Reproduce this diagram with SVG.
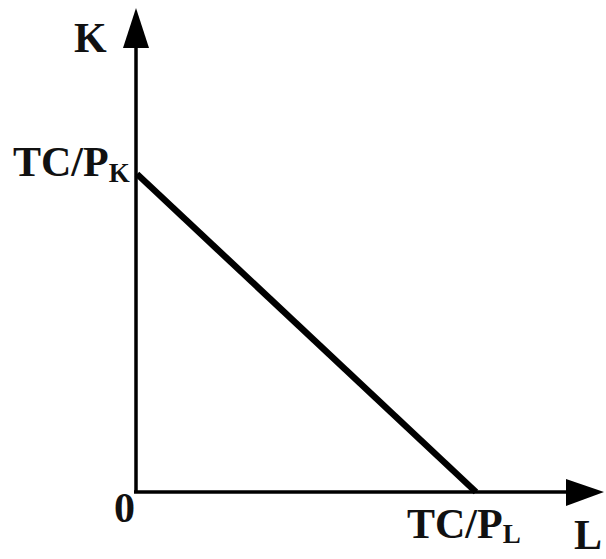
<svg xmlns="http://www.w3.org/2000/svg" width="606" height="559" viewBox="0 0 606 559">
<style>
.t{font-family:"Liberation Serif","Times New Roman",serif;font-weight:bold;fill:#111;font-size:42px}
.s{font-size:27px}
.ax{stroke:#000;stroke-width:3.5;fill:none}
</style>
<rect width="606" height="559" fill="#fff"/>
<g id="axes">
<line class="ax" x1="136" y1="492" x2="136" y2="40"/>
<polygon points="136,8 123,48 149,48" fill="#000"/>
<line class="ax" x1="134" y1="492" x2="572" y2="492"/>
<polygon points="604,492 566,479 566,506" fill="#000"/>
</g>
<g id="budget-line">
<line x1="137" y1="174" x2="476" y2="492" stroke="#000" stroke-width="6.5"/>
</g>
<g id="labels">
<text class="t" x="74" y="52">K</text>
<text class="t" x="13" y="176">TC/P<tspan class="s" dy="6">K</tspan></text>
<text class="t" x="114" y="522">0</text>
<text class="t" x="407" y="538">TC/P<tspan class="s" dy="5">L</tspan></text>
<text class="t" x="574" y="549">L</text>
</g>
</svg>
